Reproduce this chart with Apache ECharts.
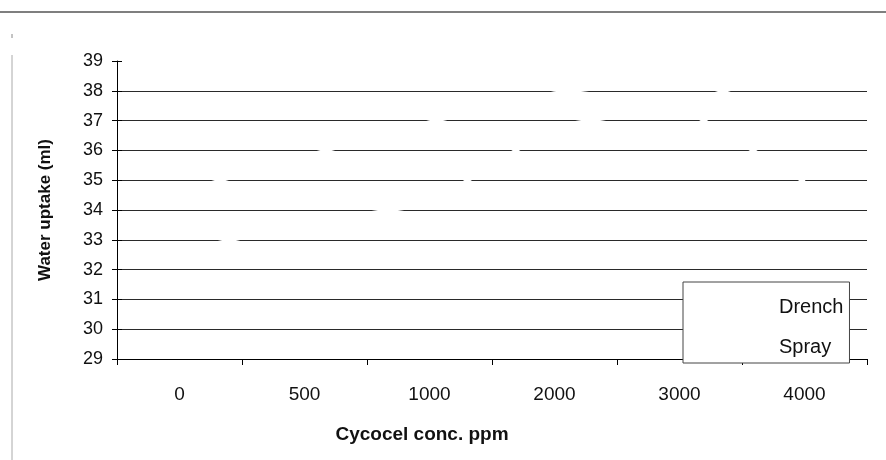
<!DOCTYPE html>
<html>
<head>
<meta charset="utf-8">
<script src="https://cdn.jsdelivr.net/npm/echarts@6/dist/echarts.min.js"></script>
<style>html,body{margin:0;padding:0;background:#fff}#c{width:886px;height:460px}</style>
</head>
<body>
<div id="c"></div>
<script>
// Data (scanned chart: the series lines are faded to white; only the gaps they cut in the gridlines remain)
var categories = ['0', '500', '1000', '2000', '3000', '4000'];
var drench = [34.6, 35.8, 36.95, 37.92, 38.44, 37.1];
var spray = [32.6, 33.55, 34.2, 36.8, 37.5, 34.95];
var yTicks = [29, 30, 31, 32, 33, 34, 35, 36, 37, 38, 39];

var chart = echarts.init(document.getElementById('c'), null, {renderer: 'canvas'});
var font = 'Liberation Sans, Arial, sans-serif';
chart.setOption({
  animation: false,
  backgroundColor: '#fff',
  grid: {left: 117, right: 19, top: 61, bottom: 101, containLabel: false},
  legend: {
    orient: 'vertical', left: 683, top: 282,
    padding: [15, 6, 6, 10],
    itemWidth: 80, itemHeight: 20, itemGap: 20,
    backgroundColor: '#fff', borderColor: '#444', borderWidth: 1,
    textStyle: {fontFamily: font, fontSize: 20, color: '#111'},
    data: ['Drench', 'Spray']
  },
  xAxis: {
    type: 'category', data: categories, boundaryGap: true,
    name: 'Cycocel conc. ppm', nameLocation: 'middle', nameGap: 66,
    nameTextStyle: {fontFamily: font, fontSize: 19, fontWeight: 'bold', color: '#111', padding: [0, 140, 0, 0]},
    axisLine: {lineStyle: {color: '#000', width: 1}},
    axisTick: {show: true, length: 6, lineStyle: {color: '#000'}},
    axisLabel: {fontFamily: font, fontSize: 19, color: '#111', margin: 26},
    splitLine: {show: false}
  },
  yAxis: [{
    type: 'value', min: yTicks[0], max: yTicks[yTicks.length - 1], interval: 1,
    name: 'Water uptake (ml)', nameLocation: 'middle', nameGap: 63, nameRotate: 90,
    nameTextStyle: {fontFamily: font, fontSize: 17, fontWeight: 'bold', color: '#111'},
    axisLine: {show: true, lineStyle: {color: '#000', width: 1}},
    axisTick: {show: true, length: 5, lineStyle: {color: '#000'}},
    axisLabel: {fontFamily: font, fontSize: 18, color: '#111', margin: 14},
    splitLine: {show: true, showMinLine: false, showMaxLine: false, lineStyle: {color: '#2a2a2a', width: 1}}
  }, {
    type: 'value', min: yTicks[0], max: yTicks[yTicks.length - 1], interval: 1,
    position: 'left', offset: 0,
    axisLine: {show: false},
    axisTick: {show: true, inside: true, length: 5, lineStyle: {color: '#000'}},
    axisLabel: {show: false},
    splitLine: {show: false}
  }],
  series: [{
    name: 'Drench', type: 'line', data: drench, symbol: 'none',
    lineStyle: {color: '#fff', width: 4}, itemStyle: {color: '#fff'}, z: 3
  }, {
    name: 'Spray', type: 'line', data: spray, symbol: 'none',
    lineStyle: {color: '#fff', width: 4}, itemStyle: {color: '#fff'}, z: 3
  }],
  graphic: [
    {type: 'line', shape: {x1: 0, y1: 12, x2: 886, y2: 12}, style: {stroke: '#555', lineWidth: 1.5}, silent: true},
    {type: 'line', shape: {x1: 12, y1: 55, x2: 12, y2: 460}, style: {stroke: '#aaa', lineWidth: 1}, silent: true},
    {type: 'line', shape: {x1: 12, y1: 34, x2: 12, y2: 38}, style: {stroke: '#888', lineWidth: 1}, silent: true}
  ]
});
</script>
</body>
</html>
